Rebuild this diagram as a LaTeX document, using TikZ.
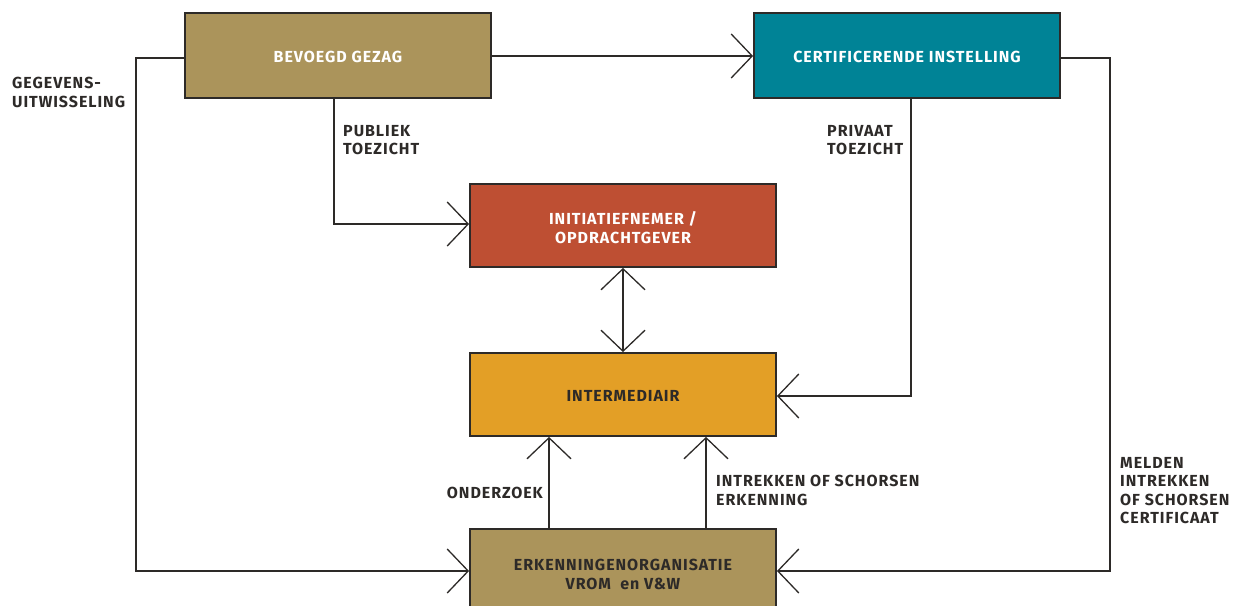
\documentclass[tikz,border=0pt]{standalone}
\usepackage{fontspec}
\setmainfont{Fira Sans}
\newfontfamily\tagfont[LetterSpace=6]{Fira Sans}
\usetikzlibrary{arrows.meta}
\definecolor{gold}{RGB}{171,148,91}
\definecolor{teal}{RGB}{0,131,150}
\definecolor{brick}{RGB}{190,79,51}
\definecolor{amber}{RGB}{227,159,38}
\definecolor{ink}{RGB}{45,42,40}
\tikzset{
  boxfont/.style={font=\tagfont\fontsize{16}{19}\selectfont\bfseries},
  box/.style={draw=ink, line width=1.8pt, minimum width=306pt, align=center,
    boxfont, inner sep=0pt, text height=14pt, text depth=0pt},
  boxtext/.style={boxfont, align=center, inner sep=0pt},
  lbl/.style={font=\tagfont\fontsize{16}{18.5}\selectfont\bfseries, text=ink, align=left, inner sep=0pt},
  barb/.tip={Straight Barb[length=21pt,width=44pt,line width=1.3pt]},
  link/.style={draw=ink, line width=1.3pt, -{barb}},
  link2/.style={draw=ink, line width=1.3pt, {barb}-{barb}},
}
\begin{document}
\begin{tikzpicture}[x=1pt,y=-1pt]
\useasboundingbox (0,0) rectangle (1239,605);
\clip (0,0) rectangle (1239,605);
% organisations
\node[box, fill=gold, text=white, minimum height=85pt] (bg) at (338,55.5) {BEVOEGD GEZAG};
\node[box, fill=teal, text=white, minimum height=85pt] (ci) at (907,55.5) {CERTIFICERENDE INSTELLING};
\node[box, fill=brick, minimum height=83pt] (io) at (623,225.5) {};
\node[boxtext, text=white] (iot) at (623,227.5) {INITIATIEFNEMER /\\OPDRACHTGEVER};
\node[box, fill=amber, text=ink, minimum height=83pt] (im) at (623,394.5) {INTERMEDIAIR};
\node[box, fill=gold, minimum height=90pt] (eo) at (623,574) {};
\node[boxtext, text=ink] (eot) at (623,574.7) {ERKENNINGENORGANISATIE\\VROM\ \ en V\&W};
% corner points of the routed connectors
\coordinate (c1) at (136,58);
\coordinate (c2) at (136,571);
\coordinate (c3) at (1110,58);
\coordinate (c4) at (1110,571);
\coordinate (c5) at (334,224);
\coordinate (c6) at (911,396);
% connectors
\draw[link] (bg.east |- 0,56) -- (ci.west |- 0,56);
\draw[link] (bg.west |- c1) -- (c1) -- (c2) -- (eo.west |- c2);
\draw[link] (ci.east |- c3) -- (c3) -- (c4) -- (eo.east |- c4);
\draw[link] (bg.south -| c5) -- (c5) -- (io.west |- c5);
\draw[link] (ci.south -| c6) -- (c6) -- (im.east |- c6);
\draw[link2] (io.south) -- (im.north);
\draw[link] (eo.north -| 549,0) -- (im.south -| 549,0);
\draw[link] (eo.north -| 706,0) -- (im.south -| 706,0);
% connector labels
\node[lbl, anchor=north west] (l1) at (12,77) {GEGEVENS-\\UITWISSELING};
\node[lbl, anchor=north west] (l2) at (343,125) {PUBLIEK\\TOEZICHT};
\node[lbl, anchor=north west] (l3) at (827,125) {PRIVAAT\\TOEZICHT};
\node[lbl, anchor=north east] (l4) at (543,487) {ONDERZOEK};
\node[lbl, anchor=north west] (l5) at (716,475) {INTREKKEN OF SCHORSEN\\ERKENNING};
\node[lbl, anchor=north west] (l6) at (1120,457) {MELDEN\\INTREKKEN\\OF SCHORSEN\\CERTIFICAAT};
\end{tikzpicture}
\end{document}
